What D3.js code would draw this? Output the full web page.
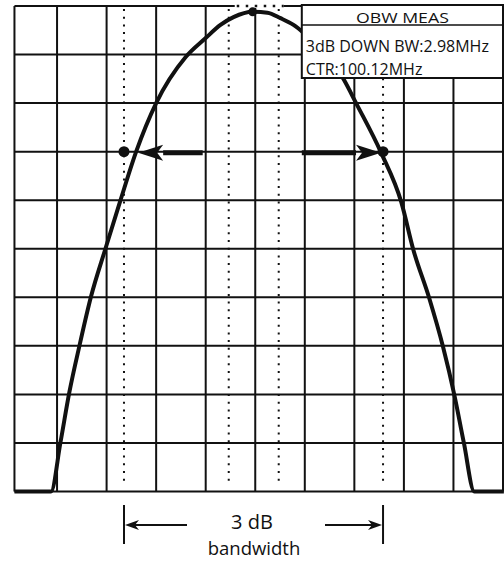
<!DOCTYPE html>
<html>
<head>
<meta charset="utf-8">
<script src="https://cdn.jsdelivr.net/npm/d3@7"></script>
<style>
  html, body { margin: 0; padding: 0; background: #fff; }
  svg { display: block; }
  text { font-family: "Open Sans", "DejaVu Sans", sans-serif; fill: #111; }
</style>
</head>
<body>
<svg id="chart" width="504" height="561"></svg>
<script>
// Spectrum analyzer screen: occupied-bandwidth (3 dB down) measurement.

// Screen settings (MHz, dB)
const screenCenter = 100.14;
const mhzPerDiv = 0.57;
const divisions = [0, 1, 2, 3, 4, 5, 6, 7, 8, 9, 10];
const levelDivisions = [0, -1, -2, -3, -4, -5, -6, -7, -8, -9, -10];
const visibleStart = 97.37;

// Measured trace
const traceFreq = [97.37, 97.79, 97.90, 98.00, 98.12, 98.25, 98.42, 98.59, 98.77, 99.00,
                   99.34, 99.57, 99.74, 99.89, 100.11, 100.28, 100.43, 100.58, 100.70,
                   101.16, 101.30, 101.59, 101.82, 101.96, 102.14, 102.30, 102.43, 102.54,
                   102.66, 103.00];
const traceLevel = [-10.0, -10.0, -8.98, -7.97, -6.98, -5.99, -4.98, -4.0, -3.0, -2.0,
                    -1.05, -0.66, -0.39, -0.23, -0.12, -0.14, -0.25, -0.39, -0.56,
                    -1.52, -2.0, -3.03, -4.04, -5.03, -6.01, -7.02, -8.01, -9.0,
                    -10.0, -10.0];

// Measurement results
const obwCenter = 100.12;     // MHz
const obwBandwidth = 2.98;    // MHz
const downLevel = -3;         // dB
const peak = { f: 100.11, level: -0.12 };
const innerMarkers = [99.835, 100.41];
const boxLines = ["OBW MEAS", "3dB DOWN BW:2.98MHz", "CTR:100.12MHz"];

const lowerEdge = obwCenter - obwBandwidth / 2;
const upperEdge = obwCenter + obwBandwidth / 2;

const svg = d3.select("#chart");

const x = d3.scaleLinear()
  .domain([screenCenter - 5 * mhzPerDiv, screenCenter + 5 * mhzPerDiv])
  .range([7.5, 503]);
const y = d3.scaleLinear().domain([0, -10]).range([6, 491.5]);

const divFreq = d => screenCenter + (d - 5) * mhzPerDiv;
const plotLeft = x(visibleStart), plotRight = x(divFreq(10));
const plotTop = y(0), plotBottom = y(-10);

const ink = "#111";

// Graticule
const grid = svg.append("g");
grid.selectAll("line.v")
  .data(divisions.filter(d => divFreq(d) > visibleStart))
  .join("line")
  .attr("x1", d => x(divFreq(d))).attr("x2", d => x(divFreq(d)))
  .attr("y1", plotTop).attr("y2", plotBottom)
  .attr("stroke", ink).attr("stroke-width", 2);
grid.selectAll("line.h")
  .data(levelDivisions)
  .join("line")
  .attr("x1", plotLeft).attr("x2", plotRight)
  .attr("y1", d => y(d)).attr("y2", d => y(d))
  .attr("stroke", ink).attr("stroke-width", 2);
grid.append("line")
  .attr("x1", plotLeft).attr("x2", plotLeft).attr("y1", plotTop).attr("y2", plotBottom)
  .attr("stroke", ink).attr("stroke-width", 2);

// Gap in the top edge between the inner markers, shown dotted
svg.append("line")
  .attr("x1", x(innerMarkers[0]) + 6).attr("x2", x(innerMarkers[1]) + 5)
  .attr("y1", plotTop).attr("y2", plotTop)
  .attr("stroke", "#fff").attr("stroke-width", 4);
svg.append("line")
  .attr("x1", x(innerMarkers[0]) + 8).attr("x2", x(innerMarkers[1]) + 5)
  .attr("y1", plotTop).attr("y2", plotTop)
  .attr("stroke", ink).attr("stroke-width", 2.5)
  .attr("stroke-dasharray", "2.5 6.5");

// Dotted marker lines
svg.selectAll("line.marker")
  .data([lowerEdge, innerMarkers[0], innerMarkers[1], upperEdge])
  .join("line")
  .attr("x1", d => x(d)).attr("x2", d => x(d))
  .attr("y1", plotTop + 3).attr("y2", plotBottom - 6)
  .attr("stroke", ink).attr("stroke-width", 2)
  .attr("stroke-dasharray", "2 5.7");

// Trace
const trace = traceFreq.map((f, i) => ({ f, level: traceLevel[i] }));
const line = d3.line()
  .x(d => x(d.f)).y(d => y(d.level))
  .curve(d3.curveMonotoneX);
svg.append("path")
  .datum(trace)
  .attr("d", line)
  .attr("fill", "none")
  .attr("stroke", ink)
  .attr("stroke-width", 4)
  .attr("stroke-linejoin", "round");

// Markers
svg.append("circle").attr("cx", x(peak.f)).attr("cy", y(peak.level)).attr("r", 4.5).attr("fill", ink);
svg.selectAll("circle.edge")
  .data([lowerEdge, upperEdge])
  .join("circle")
  .attr("cx", d => x(d)).attr("cy", y(downLevel)).attr("r", 5.5).attr("fill", ink);

// Bold arrows pointing at the 3 dB crossings
function boldArrow(x0, x1, yy) {
  const dir = Math.sign(x1 - x0);
  const headLen = 25, half = 8;
  const g = svg.append("g");
  g.append("line")
    .attr("x1", x0).attr("x2", x1 - dir * headLen)
    .attr("y1", yy).attr("y2", yy)
    .attr("stroke", ink).attr("stroke-width", 5);
  g.append("path")
    .attr("d", `M${x1},${yy} L${x1 - dir * headLen},${yy - half} L${x1 - dir * (headLen - 6)},${yy} L${x1 - dir * headLen},${yy + half} Z`)
    .attr("fill", ink);
}
boldArrow(x(divFreq(4)) - 3, x(98.77) + 2, y(downLevel) + 1);
boldArrow(x(divFreq(6)) - 3, x(upperEdge) - 2, y(downLevel) + 1);

// Measurement readout box
const boxX = x(divFreq(6)) - 3, boxY = plotTop - 1, boxW = plotRight - boxX, boxH = 73;
const box = svg.append("g");
box.append("rect")
  .attr("x", boxX).attr("y", boxY).attr("width", boxW).attr("height", boxH)
  .attr("fill", "#fff").attr("stroke", ink).attr("stroke-width", 2);
box.append("line")
  .attr("x1", boxX).attr("x2", plotRight).attr("y1", boxY + 20).attr("y2", boxY + 20)
  .attr("stroke", ink).attr("stroke-width", 1.5);
box.append("text")
  .attr("x", boxX + boxW / 2).attr("y", boxY + 18)
  .attr("text-anchor", "middle").attr("font-size", 14)
  .attr("textLength", 93).attr("lengthAdjust", "spacingAndGlyphs")
  .text(boxLines[0]);
box.append("text")
  .attr("x", boxX + 4).attr("y", boxY + 47)
  .attr("font-size", 16)
  .text(boxLines[1]);
box.append("text")
  .attr("x", boxX + 4).attr("y", boxY + 70)
  .attr("font-size", 16)
  .text(boxLines[2]);

// Bandwidth annotation below the screen
const annY = 525;
const ann = svg.append("g");
[lowerEdge, upperEdge].forEach(f => {
  ann.append("line")
    .attr("x1", x(f)).attr("x2", x(f)).attr("y1", 505).attr("y2", 544)
    .attr("stroke", ink).attr("stroke-width", 2);
});
function thinArrow(x0, x1, yy) {
  const dir = Math.sign(x1 - x0);
  ann.append("line")
    .attr("x1", x0).attr("x2", x1 - dir * 4).attr("y1", yy).attr("y2", yy)
    .attr("stroke", ink).attr("stroke-width", 2.2);
  ann.append("path")
    .attr("d", `M${x1},${yy} L${x1 - dir * 14},${yy - 5} L${x1 - dir * 10},${yy} L${x1 - dir * 14},${yy + 5} Z`)
    .attr("fill", ink);
}
thinArrow(187, x(lowerEdge) + 1, annY);
thinArrow(325, x(upperEdge) - 1, annY);
ann.append("text")
  .attr("x", 252).attr("y", 529).attr("text-anchor", "middle")
  .attr("font-size", 20).text("3 dB");
ann.append("text")
  .attr("x", 254).attr("y", 555).attr("text-anchor", "middle")
  .attr("font-size", 18.5).text("bandwidth");
</script>
</body>
</html>
